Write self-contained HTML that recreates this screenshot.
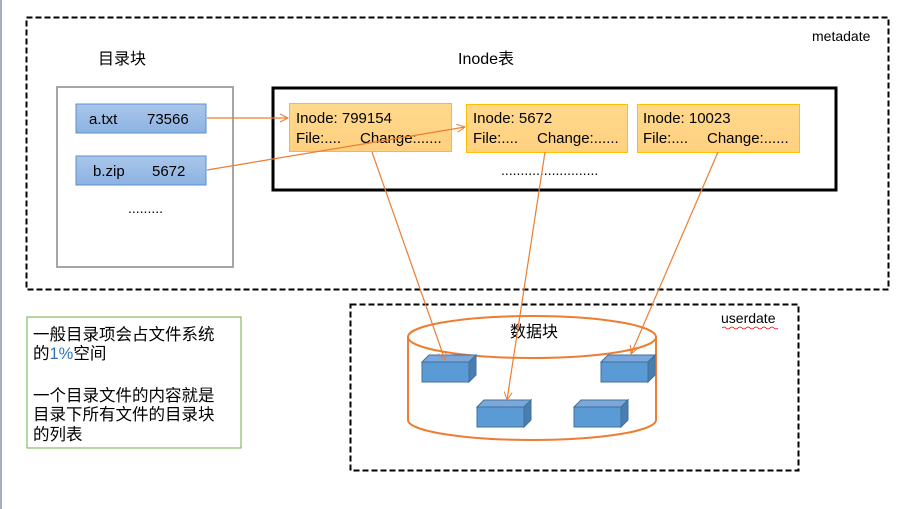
<!DOCTYPE html>
<html><head><meta charset="utf-8"><style>
html,body{margin:0;padding:0;background:#fff;}
svg{display:block;font-family:"Liberation Sans","Noto Sans CJK SC",sans-serif;}
</style></head><body>
<svg width="906" height="509" viewBox="0 0 906 509" xmlns="http://www.w3.org/2000/svg">
<defs>
<linearGradient id="bl" x1="0" y1="0" x2="0" y2="1"><stop offset="0" stop-color="#a9c6ea"/><stop offset="1" stop-color="#8db3e2"/></linearGradient>
<linearGradient id="or" x1="0" y1="0" x2="0" y2="1"><stop offset="0" stop-color="#ffd98c"/><stop offset="1" stop-color="#ffd080"/></linearGradient>
<marker id="ar" markerWidth="10" markerHeight="10" refX="9" refY="5" orient="auto" markerUnits="userSpaceOnUse"><path d="M1,1 L9,5 L1,9" fill="none" stroke="#ed7d31" stroke-width="1"/></marker>
</defs>
<rect x="0" y="0" width="2" height="509" fill="#a6afba"/>
<rect x="26.5" y="17.5" width="862" height="272" fill="none" stroke="#000" stroke-width="2" stroke-dasharray="6,3"/>
<text x="812" y="41" font-size="14">metadate</text>
<text x="98" y="64" font-size="16">目录块</text>
<text x="458" y="64" font-size="16">Inode表</text>
<rect x="57" y="87" width="176" height="180" fill="#fff" stroke="#a6a6a6" stroke-width="2"/>
<rect x="76" y="104" width="130" height="29" fill="url(#bl)" stroke="#5b8fc9"/>
<text x="89" y="124" font-size="15">a.txt</text><text x="147" y="124" font-size="15">73566</text>
<rect x="76" y="156" width="130" height="29" fill="url(#bl)" stroke="#5b8fc9"/>
<text x="93" y="176" font-size="15">b.zip</text><text x="152" y="176" font-size="15">5672</text>
<text x="128" y="213" font-size="14">.........</text>
<rect x="273" y="88" width="563" height="102" fill="#fff" stroke="#000" stroke-width="3"/>
<rect x="289.5" y="103.5" width="162" height="48" fill="url(#or)" stroke="#ffc000"/>
<text x="296" y="123" font-size="15">Inode: 799154</text><text x="296" y="143" font-size="15">File:....</text><text x="360" y="143" font-size="15">Change:......</text>
<rect x="466.5" y="104.5" width="161" height="48" fill="url(#or)" stroke="#ffc000"/>
<text x="473" y="123" font-size="15">Inode: 5672</text><text x="473" y="143" font-size="15">File:....</text><text x="537" y="143" font-size="15">Change:......</text>
<rect x="637.5" y="104.5" width="162" height="48" fill="url(#or)" stroke="#ffc000"/>
<text x="643" y="123" font-size="15">Inode: 10023</text><text x="643" y="143" font-size="15">File:....</text><text x="707" y="143" font-size="15">Change:......</text>
<text x="501" y="175" font-size="14">.........................</text>
<line x1="207" y1="118" x2="288" y2="118" stroke="#ed7d31" stroke-width="1.2" marker-end="url(#ar)"/>
<line x1="207" y1="170" x2="465" y2="127" stroke="#ed7d31" stroke-width="1.2" marker-end="url(#ar)"/>
<rect x="350.5" y="304.5" width="448" height="166" fill="none" stroke="#000" stroke-width="2" stroke-dasharray="6,3"/>
<text x="721" y="323" font-size="14">userdate</text>
<path d="M722,328 q2,-2 4,0 t4,0 t4,0 t4,0 t4,0 t4,0 t4,0 t4,0 t4,0 t4,0 t4,0 t4,0 t4,0 t4,0" fill="none" stroke="#e00" stroke-width="0.8"/>
<path d="M408,337 L408,420 A124,20 0 0 0 656,420 L656,337" fill="#fff" stroke="#ed7d31" stroke-width="2"/>
<ellipse cx="532" cy="337" rx="124" ry="21" fill="#fff" stroke="#ed7d31" stroke-width="2"/>
<text x="510" y="337" font-size="16">数据块</text>
<g fill="#5b9bd5" stroke="#41719c" stroke-width="1">
<g transform="translate(422,362)"><rect x="0" y="0" width="47" height="20"/><path d="M0,0 L7,-7 L54,-7 L47,0 Z" fill="#7ba7da"/><path d="M47,0 L54,-7 L54,13 L47,20 Z" fill="#4a7eb0"/></g>
<g transform="translate(601,362)"><rect x="0" y="0" width="47" height="20"/><path d="M0,0 L7,-7 L54,-7 L47,0 Z" fill="#7ba7da"/><path d="M47,0 L54,-7 L54,13 L47,20 Z" fill="#4a7eb0"/></g>
<g transform="translate(477,407)"><rect x="0" y="0" width="47" height="20"/><path d="M0,0 L7,-7 L54,-7 L47,0 Z" fill="#7ba7da"/><path d="M47,0 L54,-7 L54,13 L47,20 Z" fill="#4a7eb0"/></g>
<g transform="translate(574,407)"><rect x="0" y="0" width="47" height="20"/><path d="M0,0 L7,-7 L54,-7 L47,0 Z" fill="#7ba7da"/><path d="M47,0 L54,-7 L54,13 L47,20 Z" fill="#4a7eb0"/></g>
</g>
<line x1="372" y1="152" x2="445" y2="360" stroke="#ed7d31" stroke-width="1.2" marker-end="url(#ar)"/>
<line x1="545" y1="152" x2="507" y2="400" stroke="#ed7d31" stroke-width="1.2" marker-end="url(#ar)"/>
<line x1="718" y1="152" x2="631" y2="354" stroke="#ed7d31" stroke-width="1.2" marker-end="url(#ar)"/>
<rect x="27" y="317" width="214" height="131" fill="#fff" stroke="#70ad47" stroke-width="1"/>
<g font-size="16.5">
<text x="33" y="340">一般目录项会占文件系统</text>
<text x="33" y="359">的<tspan fill="#2e75b6">1%</tspan>空间</text>
<text x="33" y="401">一个目录文件的内容就是</text>
<text x="33" y="420">目录下所有文件的目录块</text>
<text x="33" y="440">的列表</text>
</g>
</svg>
</body></html>
